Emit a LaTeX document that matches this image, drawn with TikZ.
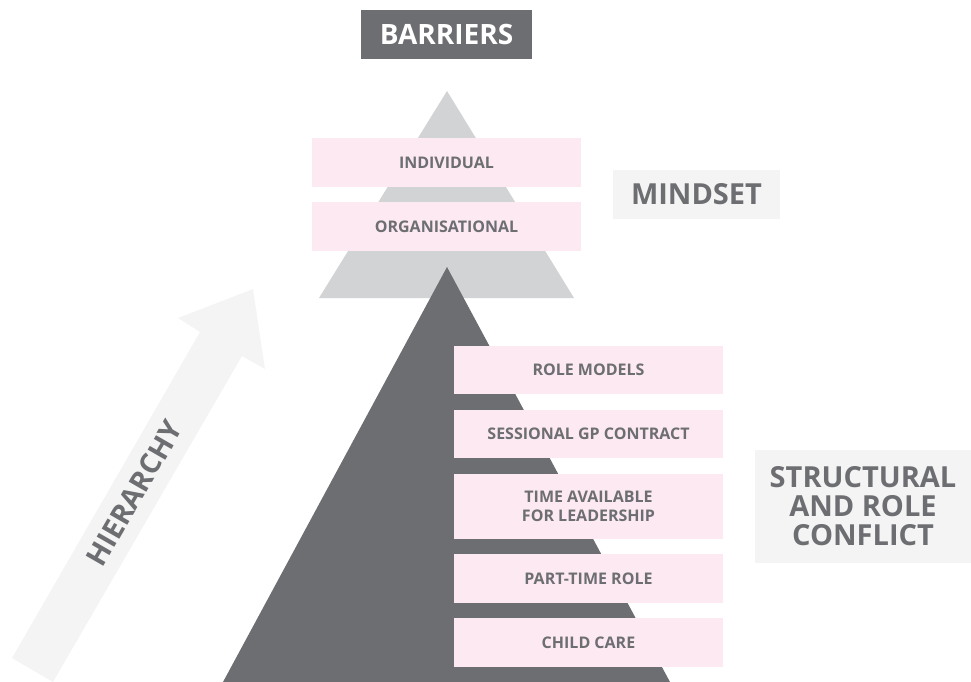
\documentclass[tikz,border=0pt]{standalone}
\usepackage{fontspec}
\setmainfont{Open Sans}
\usepackage{tikz}

\definecolor{darkgrey}{HTML}{6D6E71}
\definecolor{midgrey}{HTML}{D1D3D4}
\definecolor{palegrey}{HTML}{F4F4F4}
\definecolor{barrierpink}{HTML}{FCE9F1}

\tikzset{
	barrier/.style={rectangle, fill=barrierpink, text=darkgrey, inner sep=0pt,
		minimum width=269pt, font=\fontsize{16}{18.5}\selectfont\bfseries, align=center},
	heading/.style={rectangle, fill=palegrey, text=darkgrey, inner sep=0pt,
		font=\fontsize{29}{29}\selectfont\bfseries, align=center}
}

\begin{document}
\begin{tikzpicture}[x=1pt, y=-1pt]
			\useasboundingbox (0,0) rectangle (971,682);
			\clip (0,0) rectangle (971,682);
			% Hierarchy arrow
			\fill[palegrey] (12,658) -- (53,682) -- (242,356) -- (265,369) -- (253,289)
				-- (178,318) -- (200,332) -- cycle;
			\node[text=darkgrey, rotate=60, font=\fontsize{28.5}{28.5}\selectfont\bfseries] (hierarchy) at (134.5,493) {HIERARCHY};
			% Pyramids
			\fill[midgrey] (447,91) -- (574,298) -- (319,298) -- cycle;
			\fill[darkgrey] (447,267) -- (670,682) -- (223,682) -- cycle;
			% Title
			\node[rectangle, fill=darkgrey, text=white, inner sep=0pt, minimum width=171pt, minimum height=49pt,
				font=\fontsize{28}{28}\selectfont\bfseries] (barriers) at (446.5,34.5) {BARRIERS};
			% Mindset barriers
			\node[barrier, minimum height=49pt] (individual) at (446.5,162.5) {INDIVIDUAL};
			\node[barrier, minimum height=49pt] (organisational) at (446.5,226.5) {ORGANISATIONAL};
			\node[heading, minimum width=167pt, minimum height=49pt] (mindset) at (696.5,194.5) {MINDSET};
			% Structural barriers
			\foreach \name/\y/\h/\txt in {rolemodels/370/48/{ROLE MODELS},
				sessional/434/48/{SESSIONAL GP CONTRACT},
				timeavail/506.5/65/{TIME AVAILABLE\\FOR LEADERSHIP},
				parttime/578.5/49/{PART-TIME ROLE},
				childcare/642.5/49/{CHILD CARE}} {
				\node[barrier, minimum height=\h pt] (\name) at (588.5,\y) {\txt};
			}
			\node[heading, minimum width=216pt, minimum height=113pt] (structural) at (863,506.5)
				{STRUCTURAL\\AND ROLE\\CONFLICT};
		\end{tikzpicture}
\end{document}
